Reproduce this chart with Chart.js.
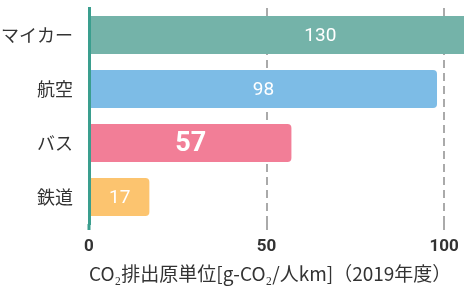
<!DOCTYPE html>
<html lang="ja">
<head>
<meta charset="UTF-8">
<title>CO2排出原単位</title>
<script src="https://cdn.jsdelivr.net/npm/chart.js"></script>
<style>
  * { margin: 0; padding: 0; box-sizing: border-box; }
  body { background: #fff; width: 464px; height: 286px; overflow: hidden; }
  .chart-box { position: relative; width: 464px; height: 286px; }
</style>
</head>
<body>
<div class="chart-box"><canvas id="co2Chart"></canvas></div>
<script>
const categories = ['マイカー', '航空', 'バス', '鉄道'];
const values = [130, 98, 57, 17];
const barColors = ['#74b3a9', '#7dbce6', '#f27e97', '#fcc46f'];
const xTicks = [0, 50, 100];
const axisTitle = 'CO₂排出原単位[g-CO₂/人km]（2019年度）';
const highlightIndex = 2; // バス は太字で大きく

const axisTeal = '#3a9e8e';
const gridGray = '#aaaaaa';
const textDark = '#333333';

// 棒の中に値を書く
const barLabels = {
    id: 'barLabels',
    afterDatasetsDraw(chart) {
        const ctx = chart.ctx;
        const meta = chart.getDatasetMeta(0);
        ctx.save();
        ctx.fillStyle = '#ffffff';
        ctx.textAlign = 'center';
        ctx.textBaseline = 'middle';
        meta.data.forEach((bar, i) => {
            ctx.font = i === highlightIndex ? 'bold 27px Roboto' : '19px Roboto';
            const cx = (bar.base + bar.x) / 2;
            ctx.fillText(String(values[i]), cx, bar.y + 1);
        });
        ctx.restore();
    }
};

new Chart(document.getElementById('co2Chart'), {
    type: 'bar',
    data: {
        labels: categories,
        datasets: [{
            data: values,
            backgroundColor: barColors,
            borderRadius: 4,
            borderSkipped: 'start',
            categoryPercentage: 1,
            barPercentage: 38 / 54
        }]
    },
    options: {
        indexAxis: 'y',
        responsive: true,
        maintainAspectRatio: false,
        animation: false,
        devicePixelRatio: 1,
        layout: { padding: { top: 8, right: 0, bottom: 0, left: 0 } },
        plugins: {
            legend: { display: false },
            tooltip: { enabled: false }
        },
        scales: {
            x: {
                type: 'linear',
                min: 0,
                max: 105.6,
                afterBuildTicks: (scale) => {
                    scale.ticks = xTicks.map(v => ({ value: v }));
                },
                afterFit: (scale) => {
                    scale.height = 62;
                    scale.paddingLeft = 0;
                    scale.paddingRight = 0;
                },
                grid: {
                    color: c => c.index === 0 ? 'rgba(0,0,0,0)' : gridGray,
                    lineWidth: 2,
                    drawTicks: true,
                    tickLength: 6,
                    tickColor: c => c.index === 0 ? axisTeal : gridGray,
                    tickWidth: c => c.index === 0 ? 3 : 2,
                    tickBorderDash: c => c.index === 0 ? [] : [8, 5]
                },
                border: { display: false, dash: [8, 5] },
                ticks: {
                    color: textDark,
                    padding: 7,
                    maxRotation: 0,
                    font: { family: 'Roboto', size: 17, weight: 'bold' }
                },
                title: {
                    display: true,
                    text: axisTitle,
                    align: 'start',
                    color: textDark,
                    font: { family: "'Noto Sans CJK JP'", size: 19 },
                    padding: { top: 0, bottom: 1 }
                }
            },
            y: {
                afterFit: (scale) => {
                    scale.width = 89;
                    scale.paddingTop = 0;
                    scale.paddingBottom = 0;
                },
                grid: { display: false, drawTicks: false },
                border: { display: true, color: axisTeal, width: 3, z: 1 },
                ticks: {
                    color: textDark,
                    padding: 16,
                    font: { family: "'Noto Sans CJK JP'", size: 18 }
                }
            }
        }
    },
    plugins: [barLabels]
});
</script>
</body>
</html>
